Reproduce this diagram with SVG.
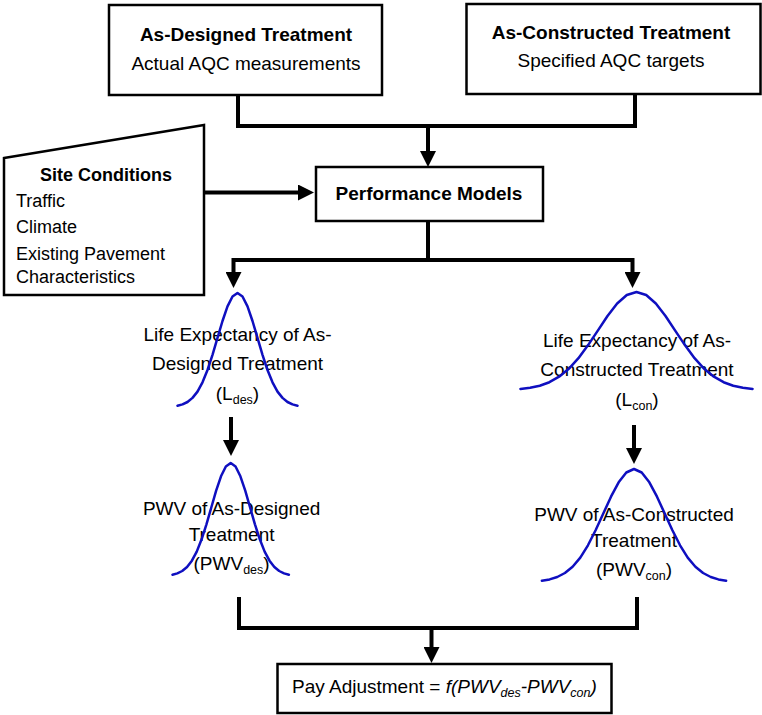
<svg xmlns="http://www.w3.org/2000/svg" width="762" height="715" viewBox="0 0 762 715">
  <style>
    .box { fill: #ffffff; stroke: #000000; stroke-width: 2.5; }
    .t { font-family: "Liberation Sans", Arial, sans-serif; font-size: 19px; fill: #000000; }
    .s { font-size: 18px; }
    .b { font-weight: bold; }
    .c { text-anchor: middle; }
    .sub { font-size: 12.5px; }
    .wire { fill: none; stroke: #000000; stroke-width: 4; stroke-linejoin: miter; }
    .bell { fill: none; stroke: #0f0fc0; stroke-width: 2.5; stroke-linejoin: round; stroke-linecap: round; }
  </style>
  <defs>
    <marker id="head" markerUnits="userSpaceOnUse" viewBox="0 0 16 16" markerWidth="16" markerHeight="16" refX="6" refY="8" orient="auto-start-reverse">
      <path d="M0,0 L16,8 L0,16 z" fill="#000000"/>
    </marker>
  </defs>

  <!-- connectors -->
  <g id="connectors">
    <path class="wire" d="M238,95 V126 H635 V94"/>
    <path class="wire" d="M428,126 V157" marker-end="url(#head)"/>
    <path class="wire" d="M204,192.5 H304" marker-end="url(#head)"/>
    <path class="wire" d="M428,221 V260"/>
    <path class="wire" d="M233.5,278 V260 H632.5 V278" marker-start="url(#head)" marker-end="url(#head)"/>
    <path class="wire" d="M231,417 V446" stroke-width="5" marker-end="url(#head)"/>
    <path class="wire" d="M634,425 V454" stroke-width="5" marker-end="url(#head)"/>
    <path class="wire" d="M239,597 V628 H637 V597"/>
    <path class="wire" d="M431.5,628 V653" marker-end="url(#head)"/>
  </g>

  <g id="as-designed">
    <rect class="box" x="109" y="5" width="273" height="90"/>
    <text class="t b c" x="246" y="41">As-Designed Treatment</text>
    <text class="t c" x="246" y="70">Actual AQC measurements</text>
  </g>

  <g id="as-constructed">
    <rect class="box" x="466.5" y="4" width="294" height="90"/>
    <text class="t b c" x="611" y="39">As-Constructed Treatment</text>
    <text class="t c" x="611" y="67">Specified AQC targets</text>
  </g>

  <g id="site-conditions">
    <path class="box" d="M4,158 L204,125 V295 H4 Z"/>
    <text class="t s b c" x="106" y="181">Site Conditions</text>
    <text class="t s" x="16" y="207">Traffic</text>
    <text class="t s" x="16" y="233">Climate</text>
    <text class="t s" x="16" y="260">Existing Pavement</text>
    <text class="t s" x="16" y="283">Characteristics</text>
  </g>

  <g id="performance-models">
    <rect class="box" x="316" y="167" width="227" height="54"/>
    <text class="t b c" x="429" y="200">Performance Models</text>
  </g>

  <!-- normal curves sampled every quarter sigma from -3 to +3 sigma -->
  <g id="life-designed">
    <text class="t c" x="237.5" y="341">Life Expectancy of As-</text>
    <text class="t c" x="237.5" y="370">Designed Treatment</text>
    <text class="t c" x="237.5" y="400">(L<tspan class="sub" dy="4">des</tspan><tspan dy="-4">)</tspan></text>
    <polyline class="bell" points="177.5,405.7 182.5,404.4 187.5,402 192.5,397.9 197.5,391.6 202.5,382.3 207.5,370 212.5,354.8 217.5,337.9 222.5,321 227.5,306.4 232.5,296.5 237.5,293 242.5,296.5 247.5,306.4 252.5,321 257.5,337.9 262.5,354.8 267.5,370 272.5,382.3 277.5,391.6 282.5,397.9 287.5,402 292.5,404.4 297.5,405.7"/>
  </g>

  <g id="life-constructed">
    <text class="t c" x="637" y="347">Life Expectancy of As-</text>
    <text class="t c" x="637" y="376">Constructed Treatment</text>
    <text class="t c" x="637" y="406">(L<tspan class="sub" dy="4">con</tspan><tspan dy="-4">)</tspan></text>
    <polyline class="bell" points="520.4,388.9 530.1,387.8 539.75,385.7 549.4,382.2 559.1,376.7 568.8,368.8 578.45,358.2 588.1,345.1 597.8,330.6 607.5,316 617.15,303.5 626.8,295 636.5,292 646.2,295 655.85,303.5 665.5,316 675.2,330.6 684.9,345.1 694.55,358.2 704.2,368.8 713.9,376.7 723.6,382.2 733.25,385.7 742.9,387.8 752.6,388.9"/>
  </g>

  <g id="pwv-designed">
    <text class="t c" x="231.6" y="515">PWV of As-Designed</text>
    <text class="t c" x="231.6" y="541">Treatment</text>
    <text class="t c" x="231.6" y="570">(PWV<tspan class="sub" dy="4">des</tspan><tspan dy="-4">)</tspan></text>
    <polyline class="bell" points="172.5,574.7 177.35,573.4 182.2,571 187.05,567 191.9,560.7 196.75,551.6 201.6,539.3 206.45,524.3 211.3,507.5 216.15,490.7 221,476.3 225.85,466.5 230.7,463 235.55,466.5 240.4,476.3 245.25,490.7 250.1,507.5 254.95,524.3 259.8,539.3 264.65,551.6 269.5,560.7 274.35,567 279.2,571 284.05,573.4 288.9,574.7"/>
  </g>

  <g id="pwv-constructed">
    <text class="t c" x="634" y="521">PWV of As-Constructed</text>
    <text class="t c" x="634" y="547">Treatment</text>
    <text class="t c" x="634" y="576">(PWV<tspan class="sub" dy="4">con</tspan><tspan dy="-4">)</tspan></text>
    <polyline class="bell" points="541.9,580.7 549.6,579.4 557.25,577 564.9,573 572.6,566.7 580.3,557.6 587.95,545.3 595.6,530.3 603.3,513.5 611,496.7 618.65,482.3 626.3,472.5 634,469 641.7,472.5 649.35,482.3 657,496.7 664.7,513.5 672.4,530.3 680.05,545.3 687.7,557.6 695.4,566.7 703.1,573 710.75,577 718.4,579.4 726.1,580.7"/>
  </g>

  <g id="pay-adjustment">
    <rect class="box" x="277.5" y="664" width="334" height="49"/>
    <text class="t" x="292" y="693">Pay Adjustment = <tspan font-style="italic">f(PWV<tspan class="sub" dy="4">des</tspan><tspan dy="-4">-PWV</tspan><tspan class="sub" dy="4">con</tspan><tspan dy="-4">)</tspan></tspan></text>
  </g>
</svg>
